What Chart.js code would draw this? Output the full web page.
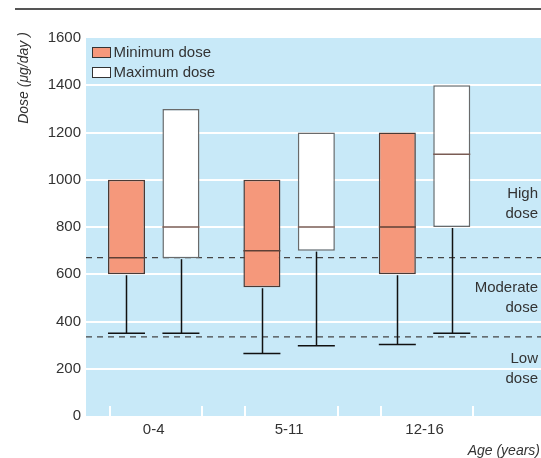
<!DOCTYPE html>
<html><head><meta charset="utf-8">
<script src="https://cdn.jsdelivr.net/npm/chart.js@4"></script>
<style>html,body{margin:0;padding:0;background:#fff}</style>
</head><body>
<canvas id="c" width="541" height="458"></canvas>
<script>
// ---- data ----
const categories = ['0-4', '5-11', '12-16'];
const seriesNames = ['Minimum dose', 'Maximum dose'];
const minQ1 = [600, 545, 600];
const minQ3 = [1000, 1000, 1200];
const minMedian = [670, 700, 800];
const minLow = [350, 265, 303];
const maxQ1 = [668, 700, 800];
const maxQ3 = [1300, 1200, 1400];
const maxMedian = [800, 800, 1108];
const maxLow = [350, 297, 350];
const yTicks = [0, 200, 400, 600, 800, 1000, 1200, 1400, 1600];
const doseThresholds = [335, 670];
const zoneLabels = [['High', 'dose'], ['Moderate', 'dose'], ['Low', 'dose']];

const q1 = [minQ1, maxQ1], q3 = [minQ3, maxQ3], med = [minMedian, maxMedian], low = [minLow, maxLow];
const fills = ['#F5987B', '#FFFFFF'];
const borders = ['#4a3a35', '#6a6a6a'];
const medColors = ['#5e4036', '#7a5c54'];
const FONT = "'Liberation Sans', Arial, sans-serif";
const TXT = '#333333';

const deco = {
  id: 'deco',
  beforeDraw(chart) {
    const { ctx, chartArea: a } = chart;
    ctx.save();
    ctx.fillStyle = '#C8E9F8';
    ctx.fillRect(a.left, a.top, a.right - a.left, a.bottom - a.top);
    ctx.strokeStyle = '#555';
    ctx.lineWidth = 2;
    ctx.beginPath(); ctx.moveTo(15, 9); ctx.lineTo(chart.width, 9); ctx.stroke();
    ctx.restore();
  },
  beforeDatasetsDraw(chart) {
    const { ctx, chartArea: a, scales: { x, y } } = chart;
    ctx.save();
    // white group tick marks
    ctx.strokeStyle = '#fff'; ctx.lineWidth = 2;
    categories.forEach((c, i) => {
      [i - 0.325, i + 0.36].forEach(v => {
        const px = Math.round(x.getPixelForValue(v));
        ctx.beginPath(); ctx.moveTo(px, a.bottom - 10); ctx.lineTo(px, a.bottom); ctx.stroke();
      });
    });
    // dashed threshold lines
    ctx.strokeStyle = '#444'; ctx.lineWidth = 1.2; ctx.setLineDash([6, 5]);
    doseThresholds.forEach(t => {
      const py = y.getPixelForValue(t);
      ctx.beginPath(); ctx.moveTo(a.left, py); ctx.lineTo(a.right, py); ctx.stroke();
    });
    ctx.restore();
  },
  afterDatasetsDraw(chart) {
    const { ctx, scales: { y } } = chart;
    ctx.save();
    seriesNames.forEach((n, s) => {
      const meta = chart.getDatasetMeta(s);
      meta.data.forEach((bar, i) => {
        const half = bar.width / 2;
        const cx = Math.round(bar.x) + 0.5;
        // whisker
        ctx.strokeStyle = '#111'; ctx.lineWidth = 1.5;
        const yq1 = y.getPixelForValue(q1[s][i]);
        const yl = y.getPixelForValue(low[s][i]);
        ctx.beginPath(); ctx.moveTo(cx, yq1 + 1); ctx.lineTo(cx, yl); ctx.stroke();
        ctx.beginPath(); ctx.moveTo(bar.x - half, yl); ctx.lineTo(bar.x + half, yl); ctx.stroke();
        // median
        ctx.strokeStyle = medColors[s]; ctx.lineWidth = 1.5;
        const ym = y.getPixelForValue(med[s][i]);
        ctx.beginPath(); ctx.moveTo(bar.x - half, ym); ctx.lineTo(bar.x + half, ym); ctx.stroke();
      });
    });
    ctx.restore();
  },
  afterDraw(chart) {
    const { ctx, chartArea: a, scales: { y } } = chart;
    ctx.save();
    // legend
    ctx.font = '15px ' + FONT; ctx.textBaseline = 'middle'; ctx.textAlign = 'left';
    chart.data.datasets.forEach((ds, k) => {
      const bx = a.left + 6.5, by = a.top + 9.5 + k * 20;
      ctx.fillStyle = ds.backgroundColor; ctx.fillRect(bx, by, 18, 10);
      ctx.strokeStyle = '#333'; ctx.lineWidth = 1; ctx.strokeRect(bx, by, 18, 10);
      ctx.fillStyle = TXT; ctx.fillText(ds.label, bx + 21, by + 5.5);
    });
    // zone labels (right aligned)
    ctx.textAlign = 'right';
    const zoneCentres = [897, 498, 200];
    zoneLabels.forEach((lines, k) => {
      const cy = y.getPixelForValue(zoneCentres[k]);
      ctx.fillText(lines[0], a.right - 3, cy - 10);
      ctx.fillText(lines[1], a.right - 3, cy + 10);
    });
    // axis titles
    ctx.font = 'italic 14px ' + FONT;
    ctx.textAlign = 'right';
    ctx.fillText('Age (years)', chart.width - 1, 451);
    ctx.translate(24, 78); ctx.rotate(-Math.PI / 2);
    ctx.textAlign = 'center';
    ctx.fillText('Dose (\u03bcg/day )', 0, 0);
    ctx.restore();
  }
};

new Chart(document.getElementById('c'), {
  type: 'bar',
  data: {
    datasets: seriesNames.map((name, s) => ({
      label: name,
      data: categories.map((c, i) => ({ x: i, y: [q1[s][i], q3[s][i]] })),
      backgroundColor: fills[s],
      borderColor: borders[s],
      borderWidth: 1.5,
      borderSkipped: false,
      barPercentage: 0.68,
      categoryPercentage: 0.804
    }))
  },
  options: {
    responsive: false,
    animation: false,
    devicePixelRatio: 1,
    layout: { padding: { top: 38, left: 0, right: 0, bottom: 0 } },
    plugins: { legend: { display: false }, tooltip: { enabled: false } },
    scales: {
      x: {
        type: 'linear', min: -0.5, max: 2.86, offset: false,
        afterBuildTicks: s => { s.ticks = categories.map((c, i) => ({ value: i })); },
        afterFit: s => { s.height = 42; },
        ticks: { callback: v => categories[v], autoSkip: false, maxRotation: 0, padding: 5,
                 font: { family: FONT, size: 15 }, color: TXT },
        grid: { display: false, drawTicks: false, offset: false },
        border: { display: false }
      },
      y: {
        min: 0, max: 1600,
        afterBuildTicks: s => { s.ticks = yTicks.map(v => ({ value: v })); },
        afterFit: s => { s.width = 86; },
        ticks: { callback: v => String(v), padding: 5, font: { family: FONT, size: 15 }, color: TXT },
        grid: {
          color: c => (c.tick && (c.tick.value === 0 || c.tick.value === 1600)) ? 'rgba(0,0,0,0)' : '#ffffff',
          lineWidth: 2, drawTicks: false
        },
        border: { display: false }
      }
    }
  },
  plugins: [deco]
});
</script>
</body></html>
